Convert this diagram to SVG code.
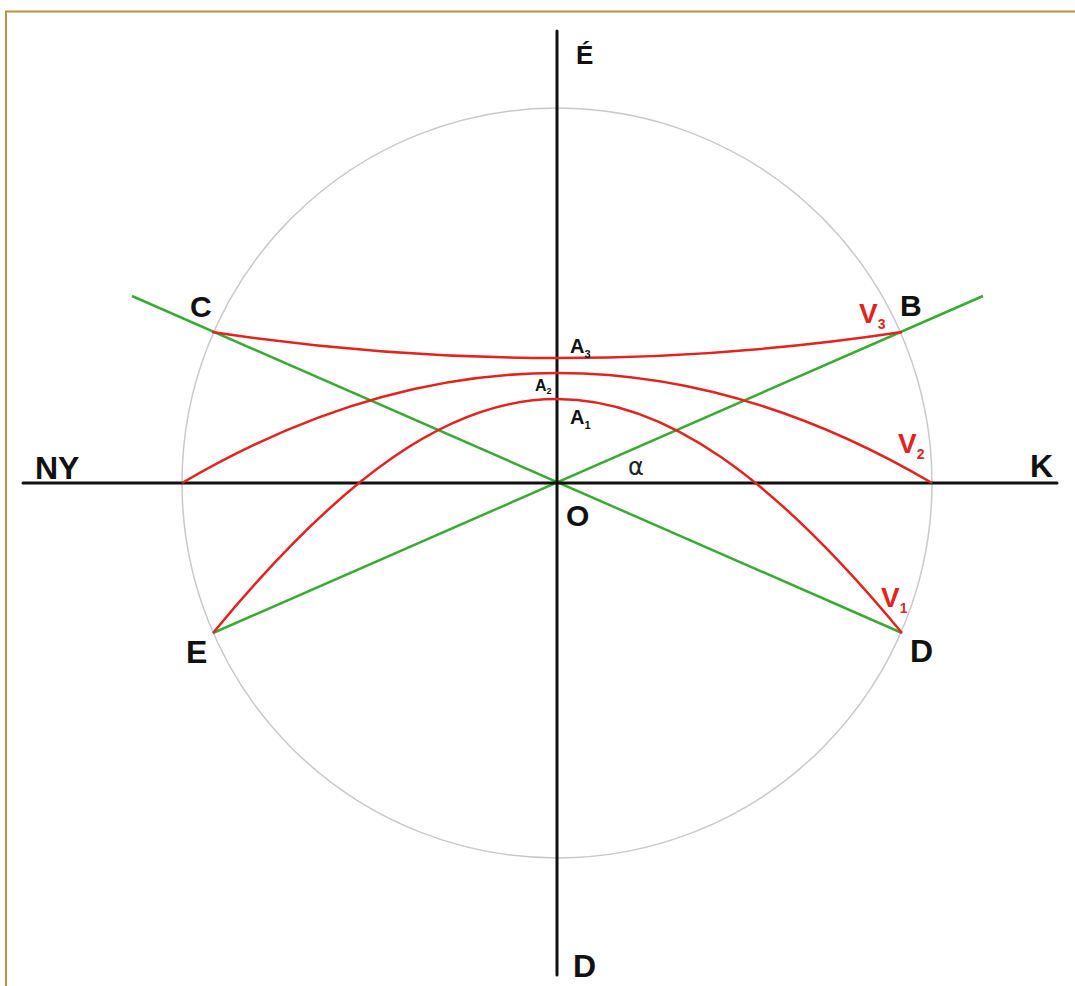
<svg xmlns="http://www.w3.org/2000/svg" width="1075" height="986" viewBox="0 0 1075 986">
<style>
.lbl{font-family:"Liberation Sans",Arial,sans-serif;font-weight:bold;fill:#111}
.red{font-family:"Liberation Sans",Arial,sans-serif;font-weight:bold;fill:#e3231e}
.axis{stroke:#111;stroke-width:3;fill:none;stroke-linecap:round}
.g{stroke:#3aa935;stroke-width:2.5;fill:none}
.r{stroke:#e3231e;stroke-width:2.5;fill:none}
</style>
<rect x="0" y="0" width="1075" height="986" fill="#fff"/>
<rect x="6" y="11.5" width="1100" height="1000" fill="none" stroke="#b8923f" stroke-width="2"/>
<g id="circle"><circle cx="557" cy="483" r="375" fill="none" stroke="#c9c9c9" stroke-width="1.5"/></g>
<g id="connectors">
<line class="g" x1="213" y1="633" x2="983" y2="296"/>
<line class="g" x1="132" y1="296" x2="902" y2="633"/>
<line class="axis" x1="23" y1="483" x2="1057" y2="483"/>
<line class="axis" x1="557" y1="31" x2="557" y2="975"/>
<path class="r" d="M212,332 Q557,384 902,332"/>
<path class="r" d="M182,483 Q557,263 932,483"/>
<path class="r" d="M213,633 C470,321 644,321 902,633"/>
</g>
<g id="label-E-top"><text class="lbl" x="576" y="64" font-size="26">É</text></g>
<g id="label-D-bottom"><text class="lbl" x="573" y="977" font-size="32">D</text></g>
<g id="label-NY"><text class="lbl" x="35" y="479" font-size="32">NY</text></g>
<g id="label-K"><text class="lbl" x="1030" y="477" font-size="32">K</text></g>
<g id="label-B"><text class="lbl" x="900" y="316" font-size="30">B</text></g>
<g id="label-C"><text class="lbl" x="190" y="317" font-size="30">C</text></g>
<g id="label-O"><text class="lbl" x="566" y="526" font-size="30">O</text></g>
<g id="label-E"><text class="lbl" x="186" y="663" font-size="32">E</text></g>
<g id="label-D"><text class="lbl" x="910" y="662" font-size="32">D</text></g>
<g id="label-alpha"><text x="628" y="475" font-size="24" font-family="'DejaVu Sans','Liberation Sans',sans-serif" fill="#222">α</text></g>
<g id="label-A3"><text class="lbl" x="570" y="353" font-size="20">A<tspan font-size="11" dy="5">3</tspan></text></g>
<g id="label-A2"><text class="lbl" x="535" y="391" font-size="16">A<tspan font-size="9" dy="3">2</tspan></text></g>
<g id="label-A1"><text class="lbl" x="570" y="424" font-size="20">A<tspan font-size="11" dy="5">1</tspan></text></g>
<g id="label-V3"><text class="red" x="859" y="323" font-size="28">V<tspan font-size="14" dy="6">3</tspan></text></g>
<g id="label-V2"><text class="red" x="898" y="453" font-size="28">V<tspan font-size="14" dy="6">2</tspan></text></g>
<g id="label-V1"><text class="red" x="881" y="607" font-size="28">V<tspan font-size="14" dy="6">1</tspan></text></g>
</svg>
